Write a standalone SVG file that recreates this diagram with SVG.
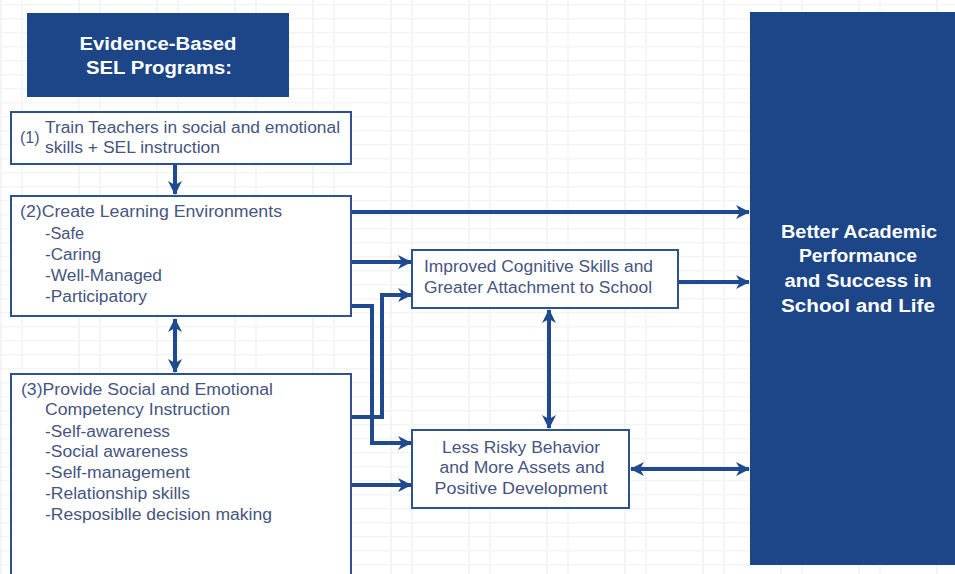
<svg xmlns="http://www.w3.org/2000/svg" width="955" height="574" viewBox="0 0 955 574">
<defs>
<pattern id="grid" x="0" y="4" width="78" height="14" patternUnits="userSpaceOnUse">
<rect width="78" height="14" fill="#ffffff"/>
<line x1="0" y1="0.5" x2="78" y2="0.5" stroke="#f4f4f4" stroke-width="2"/>
<line x1="1" y1="0" x2="1" y2="14" stroke="#f4f4f4" stroke-width="2"/>
<line x1="22" y1="0" x2="22" y2="14" stroke="#f6f6f6" stroke-width="2"/>
</pattern>
<marker id="ah" viewBox="0 0 14 14" refX="13" refY="7" markerWidth="14" markerHeight="14" markerUnits="userSpaceOnUse" orient="auto-start-reverse">
<path d="M0,0 L14,7 L0,14 L4,7 Z" fill="#1f4a8f"/>
</marker>
</defs>
<style>
.box{fill:#ffffff;stroke:#2e5190;stroke-width:2}
.dark{fill:#1c4687}
.t{font-family:"Liberation Sans",Arial,sans-serif;font-size:16px;fill:#46557f}
.w{font-family:"Liberation Sans",Arial,sans-serif;font-size:18px;font-weight:bold;fill:#ffffff;text-anchor:middle}
.c{fill:none;stroke:#1f4a8f;stroke-width:4}
.ce{text-anchor:middle}
</style>
<rect width="955" height="574" fill="url(#grid)"/>

<g id="sel-programs">
<rect class="dark" x="27" y="13" width="262" height="84"/>
<text class="w" x="158" y="49.5" textLength="157" lengthAdjust="spacingAndGlyphs">Evidence-Based</text>
<text class="w" x="159" y="73.5" textLength="146" lengthAdjust="spacingAndGlyphs">SEL Programs:</text>
</g>

<g id="train-teachers">
<rect class="box" x="11" y="112" width="340" height="52"/>
<text class="t" x="20" y="143">(1)</text>
<text class="t" x="45" y="133" textLength="295" lengthAdjust="spacingAndGlyphs">Train Teachers in social and emotional</text>
<text class="t" x="45" y="153" textLength="175" lengthAdjust="spacingAndGlyphs">skills + SEL instruction</text>
</g>

<g id="learning-environments">
<rect class="box" x="11" y="196" width="340" height="120"/>
<text class="t" x="20" y="217" textLength="262" lengthAdjust="spacingAndGlyphs">(2)Create Learning Environments</text>
<text class="t" x="45" y="239" textLength="39" lengthAdjust="spacingAndGlyphs">-Safe</text>
<text class="t" x="45" y="260" textLength="56" lengthAdjust="spacingAndGlyphs">-Caring</text>
<text class="t" x="45" y="281" textLength="117" lengthAdjust="spacingAndGlyphs">-Well-Managed</text>
<text class="t" x="45" y="302" textLength="102" lengthAdjust="spacingAndGlyphs">-Participatory</text>
</g>

<g id="competency-instruction">
<rect class="box" x="11" y="374" width="340" height="210"/>
<text class="t" x="21" y="395" textLength="252" lengthAdjust="spacingAndGlyphs">(3)Provide Social and Emotional</text>
<text class="t" x="45" y="415" textLength="185" lengthAdjust="spacingAndGlyphs">Competency Instruction</text>
<text class="t" x="45" y="437" textLength="125" lengthAdjust="spacingAndGlyphs">-Self-awareness</text>
<text class="t" x="45" y="457" textLength="143" lengthAdjust="spacingAndGlyphs">-Social awareness</text>
<text class="t" x="45" y="478" textLength="145" lengthAdjust="spacingAndGlyphs">-Self-management</text>
<text class="t" x="45" y="499" textLength="145" lengthAdjust="spacingAndGlyphs">-Relationship skills</text>
<text class="t" x="45" y="520" textLength="227" lengthAdjust="spacingAndGlyphs">-Resposiblle decision making</text>
</g>

<g id="cognitive-skills">
<rect class="box" x="412" y="250" width="266" height="58"/>
<text class="t" x="424" y="272" textLength="229" lengthAdjust="spacingAndGlyphs">Improved Cognitive Skills and</text>
<text class="t" x="424" y="293" textLength="228" lengthAdjust="spacingAndGlyphs">Greater Attachment to School</text>
</g>

<g id="less-risky">
<rect class="box" x="412" y="430" width="217" height="78"/>
<text class="t ce" x="521" y="453" textLength="158" lengthAdjust="spacingAndGlyphs">Less Risky Behavior</text>
<text class="t ce" x="522" y="473" textLength="165" lengthAdjust="spacingAndGlyphs">and More Assets and</text>
<text class="t ce" x="521" y="494" textLength="173" lengthAdjust="spacingAndGlyphs">Positive Development</text>
</g>

<g id="better-performance">
<rect class="dark" x="750" y="12" width="210" height="553"/>
<text class="w" x="859" y="237.5" textLength="156" lengthAdjust="spacingAndGlyphs">Better Academic</text>
<text class="w" x="858" y="262" textLength="118" lengthAdjust="spacingAndGlyphs">Performance</text>
<text class="w" x="858" y="287" textLength="147" lengthAdjust="spacingAndGlyphs">and Success in</text>
<text class="w" x="858" y="311.5" textLength="154" lengthAdjust="spacingAndGlyphs">School and Life</text>
</g>

<g id="connectors">
<line class="c" x1="175" y1="165" x2="175" y2="194" marker-end="url(#ah)"/>
<line class="c" x1="175" y1="319" x2="175" y2="372" marker-start="url(#ah)" marker-end="url(#ah)"/>
<line class="c" x1="352" y1="212" x2="749" y2="212" marker-end="url(#ah)"/>
<line class="c" x1="352" y1="262" x2="411" y2="262" marker-end="url(#ah)"/>
<line class="c" x1="679" y1="282" x2="749" y2="282" marker-end="url(#ah)"/>
<polyline class="c" points="352,306 372,306 372,443 411,443" marker-end="url(#ah)"/>
<polyline class="c" points="352,417 382,417 382,295 411,295" marker-end="url(#ah)"/>
<line class="c" x1="549" y1="310" x2="549" y2="428" marker-start="url(#ah)" marker-end="url(#ah)"/>
<line class="c" x1="631" y1="469" x2="749" y2="469" marker-start="url(#ah)" marker-end="url(#ah)"/>
<line class="c" x1="352" y1="485" x2="411" y2="485" marker-end="url(#ah)"/>
</g>
</svg>
